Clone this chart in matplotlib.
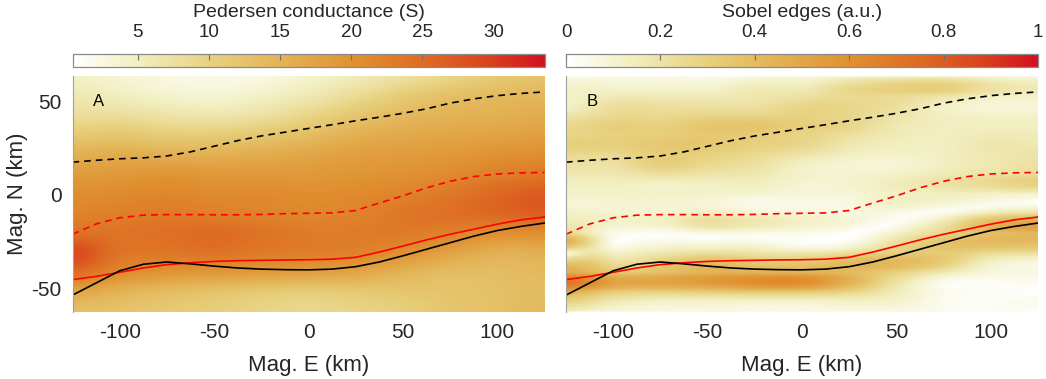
import numpy as np
import matplotlib
matplotlib.use("Agg")
import matplotlib.pyplot as plt
from matplotlib.colors import LinearSegmentedColormap

plt.rcParams['font.family'] = ['Liberation Sans', 'DejaVu Sans']
plt.rcParams['axes.unicode_minus'] = False

# grid nodes (km)
mag_e_nodes = np.arange(-125, 126, 25)
mag_n_nodes = np.linspace(-62.5, 63.5, 13)

# Pedersen conductance (S) at the nodes, one list per Mag. E column, south -> north
cond_cols = [
    [13.0, 17.0, 25.0, 29.0, 24.5, 22.0, 20.5, 18.5, 15.5, 11.5, 8.0, 6.0, 4.5],
    [12.5, 15.0, 21.0, 24.0, 24.0, 22.5, 21.0, 19.0, 16.0, 12.0, 8.0, 5.0, 3.5],
    [11.5, 13.5, 19.5, 23.5, 24.5, 23.0, 21.5, 19.5, 15.5, 11.0, 7.0, 4.0, 2.5],
    [10.5, 12.5, 19.0, 24.0, 25.0, 22.5, 21.0, 19.0, 15.5, 11.0, 6.5, 3.5, 2.0],
    [9.5, 11.5, 18.5, 23.0, 24.0, 22.0, 21.0, 19.0, 16.0, 12.0, 7.5, 4.5, 2.5],
    [9.0, 11.0, 18.0, 22.5, 23.0, 21.5, 20.5, 19.0, 17.0, 13.5, 9.5, 6.0, 4.0],
    [9.5, 11.5, 17.0, 22.0, 23.0, 22.0, 21.0, 19.5, 18.0, 15.5, 12.0, 8.5, 5.5],
    [10.5, 12.0, 15.0, 20.0, 23.0, 23.5, 22.0, 20.0, 18.5, 16.5, 14.0, 11.0, 7.5],
    [12.0, 12.5, 13.5, 17.5, 22.0, 24.5, 23.5, 21.0, 19.0, 17.0, 15.0, 13.0, 9.5],
    [13.0, 13.0, 13.5, 15.5, 20.5, 25.5, 25.5, 22.5, 20.0, 17.5, 15.5, 14.0, 11.5],
    [14.0, 13.5, 14.0, 15.5, 20.5, 26.5, 27.0, 23.5, 20.5, 18.0, 16.0, 14.5, 12.5],
]

# boundary traces (Mag. E, Mag. N) in km
trace_e = np.arange(-125, 126, 12.5)
black_dash_n = [17.5, 18.5, 19.3, 19.8, 20.8, 23.0, 26.0, 29.0, 31.5, 33.5, 35.5,
                37.5, 39.6, 41.5, 43.6, 46.0, 49.0, 51.3, 53.0, 54.2, 55.0]
red_dash_n = [-21.0, -15.5, -12.2, -10.8, -10.5, -10.5, -10.6, -10.6, -10.4, -10.0, -9.8,
              -9.6, -8.3, -4.3, -0.5, 3.8, 7.3, 9.8, 11.2, 11.8, 12.0]
red_solid_n = [-45.2, -43.5, -41.3, -39.0, -37.2, -36.2, -35.5, -35.1, -34.9, -34.7, -34.6,
               -34.3, -33.3, -30.5, -27.3, -24.0, -21.0, -18.3, -15.6, -13.3, -11.8]
black_solid_n = [-53.5, -47.0, -40.5, -37.0, -35.8, -36.8, -38.0, -39.0, -39.6, -39.9, -40.0,
                 -39.6, -38.3, -35.8, -32.5, -29.0, -25.5, -22.0, -19.0, -16.8, -15.0]

cond_ticks = [5, 10, 15, 20, 25, 30]
edge_ticks = [0, 0.2, 0.4, 0.6, 0.8, 1]
edge_ticklabels = ['0', '0.2', '0.4', '0.6', '0.8', '1']


def cubic_weights(n_src, n_dst):
    # Catmull-Rom resampling matrix (n_dst x n_src)
    t = np.linspace(0, n_src - 1, n_dst)
    i = np.clip(np.floor(t).astype(int), 0, n_src - 2)
    f = t - i
    w = [(-f**3 + 2*f**2 - f) / 2,
         (3*f**3 - 5*f**2 + 2) / 2,
         (-3*f**3 + 4*f**2 + f) / 2,
         (f**3 - f**2) / 2]
    W = np.zeros((n_dst, n_src))
    rows = np.arange(n_dst)
    for k, wk in zip(range(-1, 3), w):
        np.add.at(W, (rows, np.clip(i + k, 0, n_src - 1)), wk)
    return W


def sobel_mag(f):
    p = np.pad(f, 1, mode='edge')
    gx = (p[:-2, 2:] + 2*p[1:-1, 2:] + p[2:, 2:]) - (p[:-2, :-2] + 2*p[1:-1, :-2] + p[2:, :-2])
    gy = (p[2:, :-2] + 2*p[2:, 1:-1] + p[2:, 2:]) - (p[:-2, :-2] + 2*p[:-2, 1:-1] + p[:-2, 2:])
    return np.hypot(gx, gy)


cond = np.array(cond_cols).T          # rows = Mag. N, cols = Mag. E
nx, ny = 500, 252
field = cubic_weights(len(mag_n_nodes), ny) @ cond @ cubic_weights(len(mag_e_nodes), nx).T

edges = sobel_mag(field)
edges = 0.7 * (edges / edges.max()) ** 1.1

cmap = LinearSegmentedColormap.from_list('cond', [
    (0.00, '#ffffff'),
    (0.12, '#f3f1c6'),
    (0.30, '#e7d07c'),
    (0.45, '#e3b153'),
    (0.60, '#e09030'),
    (0.75, '#de6a22'),
    (0.88, '#d9441e'),
    (1.00, '#d2101f'),
])

extent = (mag_e_nodes[0], mag_e_nodes[-1], mag_n_nodes[0], mag_n_nodes[-1])
text_col = '#262626'

fig = plt.figure(figsize=(10.46, 3.79), dpi=100)
W, H = 1046, 379
ax_a = fig.add_axes([72.5/W, 1 - 312/H, 472/W, 236/H])
ax_b = fig.add_axes([566/W, 1 - 312/H, 472/W, 236/H])
cax_a = fig.add_axes([72.5/W, 1 - 67/H, 472/W, 13.5/H])
cax_b = fig.add_axes([566/W, 1 - 67/H, 472/W, 13.5/H])

im_a = ax_a.imshow(field, origin='lower', extent=extent, aspect='auto', cmap=cmap,
                   vmin=0.4, vmax=33.6, interpolation='bilinear')
im_b = ax_b.imshow(edges, origin='lower', extent=extent, aspect='auto', cmap=cmap,
                   vmin=0, vmax=1, interpolation='bilinear')

for ax, tag in [(ax_a, 'A'), (ax_b, 'B')]:
    ax.plot(trace_e, black_dash_n, color='black', lw=1.2, ls=(0, (4, 3)))
    ax.plot(trace_e, red_dash_n, color='red', lw=1.2, ls=(0, (4, 3)))
    ax.plot(trace_e, red_solid_n, color='red', lw=1.2)
    ax.plot(trace_e, black_solid_n, color='black', lw=1.2)
    ax.text(-111, 50, tag, fontsize=12, ha='center', va='center', color='black')
    ax.set_xlim(-125, 125)
    ax.set_ylim(-62.5, 63.5)
    ax.set_xticks([-100, -50, 0, 50, 100])
    ax.set_yticks([-50, 0, 50])
    ax.tick_params(length=0, labelsize=15, pad=8, labelcolor=text_col)
    for s in ['top', 'right', 'bottom']:
        ax.spines[s].set_visible(False)
    ax.spines['left'].set_color('#a0a0a0')
    ax.spines['left'].set_linewidth(0.8)
    ax.set_xlabel('Mag. E (km)', fontsize=16, color=text_col, labelpad=9)

ax_a.set_ylabel('Mag. N (km)', fontsize=16, color=text_col)
ax_a.yaxis.set_label_coords(-0.094, 0.5)
ax_b.set_yticklabels([])

for cax, im, ticks, label in [(cax_a, im_a, cond_ticks, 'Pedersen conductance (S)'),
                              (cax_b, im_b, edge_ticks, 'Sobel edges (a.u.)')]:
    cb = fig.colorbar(im, cax=cax, orientation='horizontal', ticks=ticks)
    cax.xaxis.set_ticks_position('top')
    cax.xaxis.set_label_position('top')
    cax.tick_params(direction='in', length=4, width=0.8, color='#6e6e6e',
                    labelsize=13.5, pad=9, labelcolor=text_col)
    cb.outline.set_edgecolor('#8a8a8a')
    cb.outline.set_linewidth(0.9)
    cb.set_label(label, fontsize=14, color=text_col, labelpad=5)

cax_b.set_xticklabels(edge_ticklabels)

fig.savefig('out.png', dpi=100)
